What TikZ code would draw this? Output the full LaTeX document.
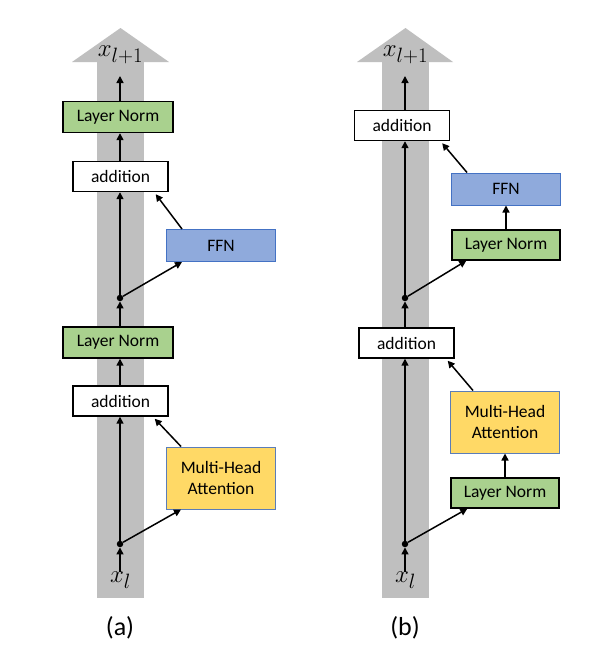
\documentclass[tikz,border=0pt]{standalone}
\usepackage{fontspec}
\setmainfont{Carlito}
\usetikzlibrary{arrows.meta}
\definecolor{bandgray}{HTML}{BFBFBF}
\definecolor{lngreen}{HTML}{A9D18E}
\definecolor{ffnblue}{HTML}{8FAADC}
\definecolor{ffnborder}{HTML}{4472C4}
\definecolor{mhayellow}{HTML}{FFD966}
\definecolor{mhaborder}{HTML}{5B7DB8}
\tikzset{
  box/.style={draw=black, line width=1.4pt, inner sep=0pt, font=\fontsize{17.5}{21}\selectfont, align=center},
  lnbox/.style={box, fill=lngreen, minimum width=110pt, minimum height=31pt},
  addbox/.style={box, fill=white, minimum width=95pt, minimum height=30pt},
  ffnbox/.style={box, draw=ffnborder, line width=1pt, fill=ffnblue, minimum width=109pt, minimum height=32pt},
  mhabox/.style={box, draw=mhaborder, line width=1pt, fill=mhayellow, minimum width=109pt, minimum height=62pt},
  dot/.style={circle, fill=black, inner sep=0pt, minimum size=6.5pt},
  conn/.style={line width=1.5pt, -{Triangle[length=7pt,width=7pt]}},
  mathlbl/.style={inner sep=0pt, font=\fontsize{30}{32}\selectfont},
  caption/.style={inner sep=0pt, font=\fontsize{26}{30}\selectfont},
}
\begin{document}
\begin{tikzpicture}[x=1pt,y=-1pt]
\useasboundingbox[fill=white] (0,0) rectangle (594,654);
% ---------- panel (a) ----------
\fill[bandgray] (97,62) rectangle (144,598);
\fill[bandgray] (72,62) -- (120.5,28) -- (169,62) -- cycle;
\node[mathlbl] (xl1a) at (120.5,55) {$x_{l+1}$};
\coordinate (topa) at (120,76);
\node[lnbox] (ln2a) at (118,117) {Layer Norm};
\node[addbox] (add2a) at (120.5,176.5) {addition};
\node[ffnbox] (ffna) at (221,245.5) {FFN};
\node[dot] (dot2a) at (120,298) {};
\node[lnbox] (ln1a) at (118,342.5) {Layer Norm};
\node[addbox] (add1a) at (120.5,401) {addition};
\node[mhabox] (mhaa) at (221,478) {Multi-Head\\Attention};
\node[dot] (dot1a) at (120,544) {};
\node[mathlbl] (xla) at (120.5,580) {$x_l$};
\node[caption] (capa) at (120,628) {(a)};
\draw[conn] (dot1a |- xla.north) -- (dot1a.south);
\draw[conn] (dot1a) -- (dot1a |- add1a.south);
\draw[conn] (dot1a) -- ([xshift=15pt]mhaa.south west);
\draw[conn] ([xshift=15pt]mhaa.north west) -- ([xshift=-14pt,yshift=-2pt]add1a.south east);
\draw[conn] (dot1a |- add1a.north) -- (dot1a |- ln1a.south);
\draw[conn] (dot2a |- ln1a.north) -- (dot2a.south);
\draw[conn] (dot2a) -- (dot2a |- add2a.south);
\draw[conn] (dot2a) -- ([xshift=16pt]ffna.south west);
\draw[conn] ([xshift=16pt]ffna.north west) -- ([xshift=-13pt,yshift=-2pt]add2a.south east);
\draw[conn] (dot2a |- add2a.north) -- (dot2a |- ln2a.south);
\draw[conn] (topa |- ln2a.north) -- (topa);
% ---------- panel (b) ----------
\fill[bandgray] (382,62) rectangle (429,598);
\fill[bandgray] (357,62) -- (405.5,28) -- (453,62) -- cycle;
\node[mathlbl] (xl1b) at (405.5,55) {$x_{l+1}$};
\coordinate (topb) at (405,76);
\node[addbox] (add2b) at (402,125.5) {addition};
\node[ffnbox] (ffnb) at (506,189) {FFN};
\node[lnbox, minimum width=108pt, minimum height=30pt] (ln2b) at (506,245) {Layer Norm};
\node[dot] (dot2b) at (405,298) {};
\node[addbox] (add1b) at (406.5,343) {addition};
\node[mhabox] (mhab) at (505,422) {Multi-Head\\Attention};
\node[lnbox, minimum width=108pt, minimum height=30pt] (ln1b) at (505,493) {Layer Norm};
\node[dot] (dot1b) at (405,544) {};
\node[mathlbl] (xlb) at (405.5,580) {$x_l$};
\node[caption] (capb) at (405,628) {(b)};
\draw[conn] (dot1b |- xlb.north) -- (dot1b.south);
\draw[conn] (dot1b) -- (dot1b |- add1b.south);
\draw[conn] (dot1b) -- ([xshift=17pt]ln1b.south west);
\draw[conn] (ln1b.north) -- (mhab.south);
\draw[conn] ([xshift=23pt]mhab.north west) -- ([xshift=-7pt,yshift=-2pt]add1b.south east);
\draw[conn] (add1b.north -| dot2b) -- (dot2b.south);
\draw[conn] (dot2b) -- (dot2b |- add2b.south);
\draw[conn] (dot2b) -- ([xshift=15pt]ln2b.south west);
\draw[conn] (ln2b.north -| ffnb.south) -- (ffnb.south);
\draw[conn] ([xshift=16pt]ffnb.north west) -- ([xshift=-8pt,yshift=-2pt]add2b.south east);
\draw[conn] (add2b.north -| topb) -- (topb);
\end{tikzpicture}
\end{document}
